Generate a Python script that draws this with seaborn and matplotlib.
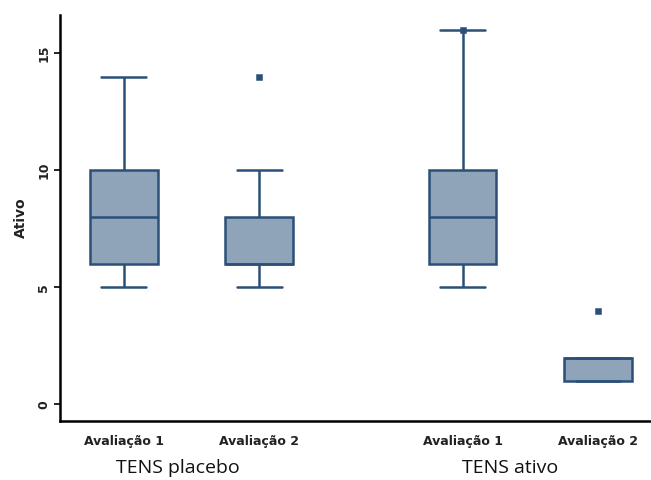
import pandas as pd
import seaborn as sns
import matplotlib.pyplot as plt

# ======================================
# DATA
# ======================================
groups = ["TENS placebo", "TENS ativo"]
evals = ["Avaliação 1", "Avaliação 2"]

placebo_av1 = [5, 6, 6, 7, 8, 9, 10, 12, 14]
placebo_av2 = [5, 6, 6, 6, 6, 7, 8, 10, 14]
ativo_av1 = [5, 6, 6, 7, 8, 9, 10, 12, 16]
ativo_av2 = [1, 1, 1, 1, 2, 2, 2, 2, 4]

# points drawn as markers in the original (box index, value)
marked_box = [1, 2, 3]
marked_val = [14, 16, 4]

# ======================================
# LAYOUT / STYLE
# ======================================
BOX_POS = [0, 1, 2.5, 3.5]
FILL = "#8fa4b9"
EDGE = "#2b5078"

series = [placebo_av1, placebo_av2, ativo_av1, ativo_av2]
rows = []
for pos, vals in zip(BOX_POS, series):
    for v in vals:
        rows.append({"pos": pos, "valor": v})
df = pd.DataFrame(rows)

marks = pd.DataFrame({
    "pos": [BOX_POS[i] for i in marked_box],
    "valor": marked_val,
})

sns.set_style("white")
fig = plt.figure(figsize=(6.51, 4.8), dpi=100)
ax = fig.add_axes([0.092, 0.123, 0.908, 0.846])

sns.boxplot(
    data=df, x="pos", y="valor", native_scale=True,
    width=0.5, color=FILL, linecolor=EDGE, linewidth=1.8,
    saturation=1, showfliers=False, capwidths=0.33, ax=ax,
)
sns.scatterplot(
    data=marks, x="pos", y="valor", marker="s", s=22,
    color=EDGE, edgecolor=EDGE, zorder=5, ax=ax,
)

ax.set_xlim(-0.47, 3.89)
ax.set_ylim(-0.71, 16.64)
ax.set_yticks([0, 5, 10, 15])
ax.set_yticklabels(["0", "5", "10", "15"], rotation=90, va="center",
                   fontsize=9, fontweight="bold", color="#222222")
ax.set_xticks(BOX_POS)
ax.set_xticklabels(evals * 2, fontsize=9, fontweight="bold", color="#222222")
ax.tick_params(axis="y", length=4, width=1.2, color="black", pad=3, left=True)
ax.tick_params(axis="x", length=0, pad=10)
ax.set_xlabel("")
ax.set_ylabel("Ativo", fontsize=10, fontweight="bold", labelpad=7,
              color="#222222")

sns.despine(ax=ax)
for side in ["left", "bottom"]:
    ax.spines[side].set_color("black")
    ax.spines[side].set_linewidth(1.8)

# group labels under the tick labels
for x, g in zip([0.4, 2.85], groups):
    ax.text(x, -0.115, g, transform=ax.get_xaxis_transform(),
            ha="center", va="center", fontsize=14, family="Open Sans",
            color="#111111")

fig.savefig("out.png", dpi=100)
